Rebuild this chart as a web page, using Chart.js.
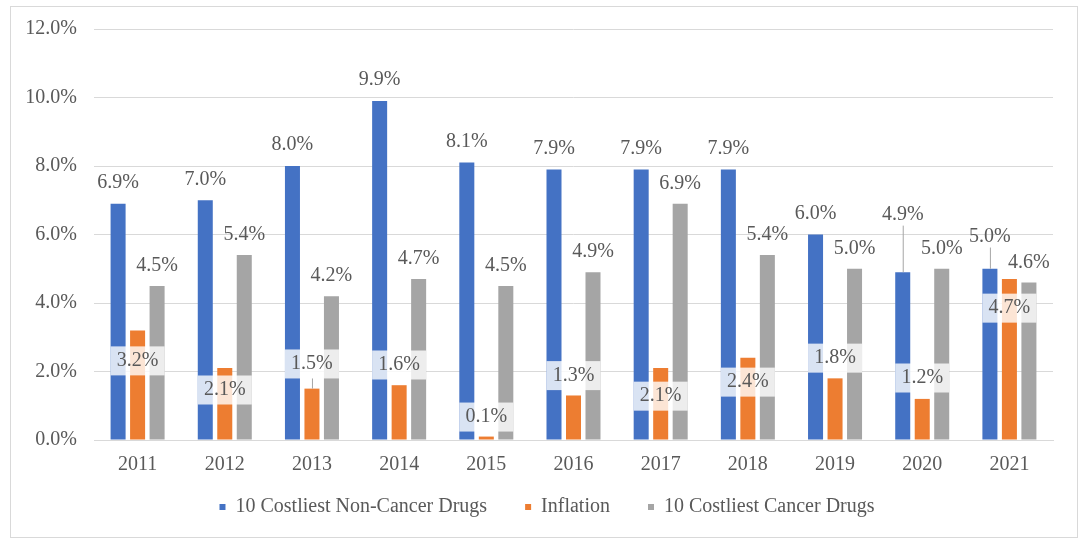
<!DOCTYPE html>
<html>
<head>
<meta charset="utf-8">
<script src="https://cdn.jsdelivr.net/npm/chart.js@4.4.1/dist/chart.umd.min.js"></script>
<style>
  html, body { margin: 0; padding: 0; background: #fff; }
  #chart { display: block; }
</style>
</head>
<body>
<canvas id="chart" width="1084" height="540"></canvas>
<script>
  var years = ['2011', '2012', '2013', '2014', '2015', '2016', '2017', '2018', '2019', '2020', '2021'];
  var nonCancer = [6.9, 7.0, 8.0, 9.9, 8.1, 7.9, 7.9, 7.9, 6.0, 4.9, 5.0];
  var inflation = [3.2, 2.1, 1.5, 1.6, 0.1, 1.3, 2.1, 2.4, 1.8, 1.2, 4.7];
  var cancer = [4.5, 5.4, 4.2, 4.7, 4.5, 4.9, 6.9, 5.4, 5.0, 5.0, 4.6];
  var yTicks = [0, 2, 4, 6, 8, 10, 12];

  // where the hand-moved labels sit, in % units (null = just above its bar)
  var nonCancerLabelAt = [null, null, null, null, null, null, null, null, null, 6.58, 5.94];
  var inflationLabelAt = [2.31, 1.46, 2.22, 2.19, 0.67, 1.88, 1.28, 1.69, 2.39, 1.81, 3.85];

  var FONT = "'Liberation Serif', 'Times New Roman', serif";
  var TEXT = '#595959';
  var GRID = '#d9d9d9';

  function pct(v) { return v.toFixed(1) + '%'; }

  // white page + thin frame like the Excel chart area
  var framePlugin = {
    id: 'frame',
    beforeDraw: function(chart) {
      var ctx = chart.ctx;
      ctx.save();
      ctx.fillStyle = '#fff';
      ctx.fillRect(0, 0, chart.width, chart.height);
      ctx.strokeStyle = GRID;
      ctx.lineWidth = 1;
      ctx.strokeRect(10.5, 6.5, 1067, 531);
      ctx.restore();
    },
    // legend padding is wide (item spacing), so nudge the box to where Excel put it
    afterLayout: function(chart) {
      var lg = chart.legend;
      lg.left += 8; lg.right += 8;
      lg.top -= 18; lg.bottom -= 18;
    }
  };

  var labelPlugin = {
    id: 'excelLabels',
    afterDatasetsDraw: function(chart) {
      var ctx = chart.ctx;
      var y = chart.scales.y;
      var blue = chart.getDatasetMeta(0).data;
      var orange = chart.getDatasetMeta(1).data;
      var grey = chart.getDatasetMeta(2).data;
      ctx.save();
      ctx.font = '20px ' + FONT;
      ctx.textAlign = 'center';
      ctx.textBaseline = 'middle';
      ctx.strokeStyle = '#a6a6a6';
      ctx.lineWidth = 1;

      years.forEach(function(yr, i) {
        // inflation label: boxed, laid across the whole group
        var ly = y.getPixelForValue(inflationLabelAt[i]);
        var left = blue[i].x - blue[i].width / 2;
        var right = grey[i].x + grey[i].width / 2;
        ctx.fillStyle = 'rgba(255,255,255,0.8)';
        ctx.fillRect(left, ly - 14.5, right - left, 29);
        if (orange[i].y - (ly + 14.5) > 9) {
          ctx.beginPath();
          ctx.moveTo(orange[i].x + 0.5, ly + 14.5);
          ctx.lineTo(orange[i].x + 0.5, orange[i].y);
          ctx.stroke();
        }
        ctx.fillStyle = TEXT;
        ctx.fillText(pct(inflation[i]), orange[i].x, ly);

        // non-cancer label, some moved up with a leader line
        var by;
        if (nonCancerLabelAt[i] != null) {
          by = y.getPixelForValue(nonCancerLabelAt[i]);
          ctx.beginPath();
          ctx.moveTo(blue[i].x + 0.5, by + 11);
          ctx.lineTo(blue[i].x + 0.5, blue[i].y);
          ctx.stroke();
        } else {
          by = blue[i].y - 21;
        }
        ctx.fillText(pct(nonCancer[i]), blue[i].x, by);

        // cancer label
        ctx.fillText(pct(cancer[i]), grey[i].x, grey[i].y - 20);
      });
      ctx.restore();
    }
  };

  Chart.defaults.font.family = FONT;
  Chart.defaults.font.size = 20;
  Chart.defaults.color = TEXT;

  new Chart(document.getElementById('chart').getContext('2d'), {
    type: 'bar',
    data: {
      labels: years,
      datasets: [
        { label: '10 Costliest Non-Cancer Drugs', data: nonCancer, backgroundColor: '#4472C4' },
        { label: 'Inflation', data: inflation, backgroundColor: '#ED7D31' },
        { label: '10 Costliest Cancer Drugs', data: cancer, backgroundColor: '#A5A5A5' }
      ]
    },
    options: {
      responsive: false,
      animation: false,
      categoryPercentage: 0.671,
      barPercentage: 0.77,
      layout: { padding: { left: 25, right: 31, top: 29, bottom: -5 } },
      plugins: {
        legend: {
          position: 'bottom',
          labels: { boxWidth: 6, boxHeight: 6, padding: 38, color: TEXT, font: { size: 20 } }
        },
        tooltip: { enabled: false }
      },
      scales: {
        x: {
          grid: { display: false, drawTicks: false },
          border: { color: GRID, width: 1 },
          ticks: { padding: 13 },
          afterFit: function(s) { s.height = 37; }
        },
        y: {
          min: yTicks[0],
          max: yTicks[yTicks.length - 1],
          afterBuildTicks: function(s) { s.ticks = yTicks.map(function(v) { return { value: v }; }); },
          ticks: { padding: 17, callback: function(v) { return pct(v); } },
          grid: { color: GRID, drawTicks: false },
          border: { display: false },
          afterFit: function(s) { s.width = 69; }
        }
      }
    },
    plugins: [framePlugin, labelPlugin]
  });
</script>
</body>
</html>
